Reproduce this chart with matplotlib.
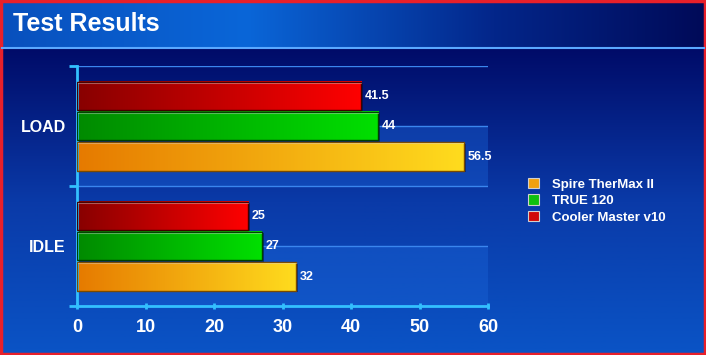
import numpy as np
import matplotlib
matplotlib.use("Agg")
import matplotlib.pyplot as plt
from matplotlib.colors import LinearSegmentedColormap
from matplotlib.patches import Rectangle, Patch

# data
categories = ["IDLE", "LOAD"]
series = ["Spire TherMax II", "TRUE 120", "Cooler Master v10"]
spire = [32, 56.5]
true120 = [27, 44]
cooler = [25, 41.5]
xticks = [0, 10, 20, 30, 40, 50, 60]

# colors (dark -> bright, edge, legend)
grad = {
    "Spire TherMax II": ("#e67a00", "#ffdc1e", "#7a4a00", "#f0a010"),
    "TRUE 120": ("#008a00", "#00e000", "#004000", "#10c010"),
    "Cooler Master v10": ("#880000", "#ff0000", "#400000", "#d00808"),
}

W, H = 706, 355
fig = plt.figure(figsize=(W / 100, H / 100), dpi=100)

# background
bg = fig.add_axes([0, 0, 1, 1], zorder=-5)
bg.axis("off")
title_cmap = LinearSegmentedColormap.from_list(
    "t", [(0, "#0850bd"), (0.35, "#0a66d8"), (0.7, "#03268a"), (1, "#000a58")])
bg.imshow(np.linspace(0, 1, 256).reshape(1, -1), cmap=title_cmap, aspect="auto",
          extent=(0, W, 47, 0))
panel_cmap = LinearSegmentedColormap.from_list("p", ["#000b68", "#0a3aa8", "#0a54c6"])
bg.imshow(np.linspace(0, 1, 256).reshape(-1, 1), cmap=panel_cmap, aspect="auto",
          extent=(0, W, H, 48))
bg.plot([2, W - 2], [47.5, 47.5], color="#5aa8ff", lw=1.5)
bg.add_patch(Rectangle((1, 1), W - 2, H - 2, fill=False, ec="#e8202a", lw=2.5))
bg.text(13, 24, "Test Results", color="white", fontsize=18, fontweight="bold",
        va="center", ha="left", family="Liberation Sans")
bg.set_xlim(0, W)
bg.set_ylim(H, 0)

# main axes
ax = fig.add_axes([77 / W, (H - 306) / H, (488 - 77) / W, 240 / H])
ax.patch.set_alpha(0)

ypos = np.arange(len(categories))
h = 0.24
offsets = {"Spire TherMax II": -0.255, "TRUE 120": 0.0, "Cooler Master v10": 0.25}
values = {"Spire TherMax II": spire, "TRUE 120": true120, "Cooler Master v10": cooler}

# alternating bands + grid lines
for lo in [-0.5, 0.5]:
    ax.axhspan(lo, lo + 0.5, color="#1a64d8", alpha=0.4, lw=0, zorder=0)
for g in [-0.5, 0, 0.5, 1, 1.5]:
    ax.axhline(g, color="#3a86ee", lw=1, zorder=0.5)

gx = np.linspace(0, 1, 256).reshape(1, -1)
for name in series:
    c0, c1, ec, _ = grad[name]
    cmap = LinearSegmentedColormap.from_list(name, [c0, c1])
    for y, v in zip(ypos, values[name]):
        yc = y + offsets[name]
        ax.add_patch(Rectangle((0.25, yc - h / 2 - 0.012), v, h, fc="#00103a",
                               alpha=0.5, lw=0, zorder=1))
        ax.imshow(gx, cmap=cmap, aspect="auto", extent=(0, v, yc - h / 2, yc + h / 2),
                  zorder=2)
        ax.add_patch(Rectangle((0, yc - h / 2), v, h, fill=False, ec=ec, lw=1, zorder=3))
        ax.plot([0.1, v - 0.1], [yc + h / 2 - 0.008] * 2, color="white", alpha=0.35,
                lw=0.8, zorder=3)
        ax.text(v + 0.5, yc, f"{v:g}", color="white", fontsize=9, fontweight="bold",
                va="center", ha="left", family="Liberation Sans", zorder=4)

ax.set_xlim(0, 60)
ax.set_ylim(-0.5, 1.5)
ax.set_xticks(xticks)
ax.set_xticklabels([str(t) for t in xticks])
ax.set_yticks([-0.5, 0.5, 1.5])
ax.set_yticklabels([])
ax.set_yticks(ypos, minor=True)
ax.set_yticklabels(categories, minor=True)
ax.tick_params(axis="y", which="minor", length=0, pad=8)
ax.tick_params(axis="y", which="major", length=6, width=2, color="#33c0ff", direction="out")
ax.tick_params(axis="x", length=5, width=2, color="#33c0ff", direction="inout", pad=7)
for lab in ax.get_xticklabels():
    lab.set_fontsize(13)
for lab in ax.get_yticklabels(minor=True):
    lab.set_fontsize(11.5)
for lab in ax.get_xticklabels() + ax.get_yticklabels(minor=True):
    lab.set_color("white")
    lab.set_fontweight("bold")
    lab.set_family("Liberation Sans")
for s in ["top", "right"]:
    ax.spines[s].set_visible(False)
for s in ["left", "bottom"]:
    ax.spines[s].set_color("#33c0ff")
    ax.spines[s].set_linewidth(2)

# legend
handles = [Patch(fc=grad[n][3], ec="#d0d0d0", lw=0.8, label=n) for n in series]
leg = fig.legend(handles=handles, loc="upper left", bbox_to_anchor=(516 / W, 1 - 166 / H),
                 frameon=False, handlelength=0.85, handleheight=0.85, handletextpad=1.0,
                 labelspacing=0.28, prop={"family": "Liberation Sans", "weight": "bold",
                                          "size": 9.5})
for t in leg.get_texts():
    t.set_color("white")

fig.savefig("out.png", dpi=100)
